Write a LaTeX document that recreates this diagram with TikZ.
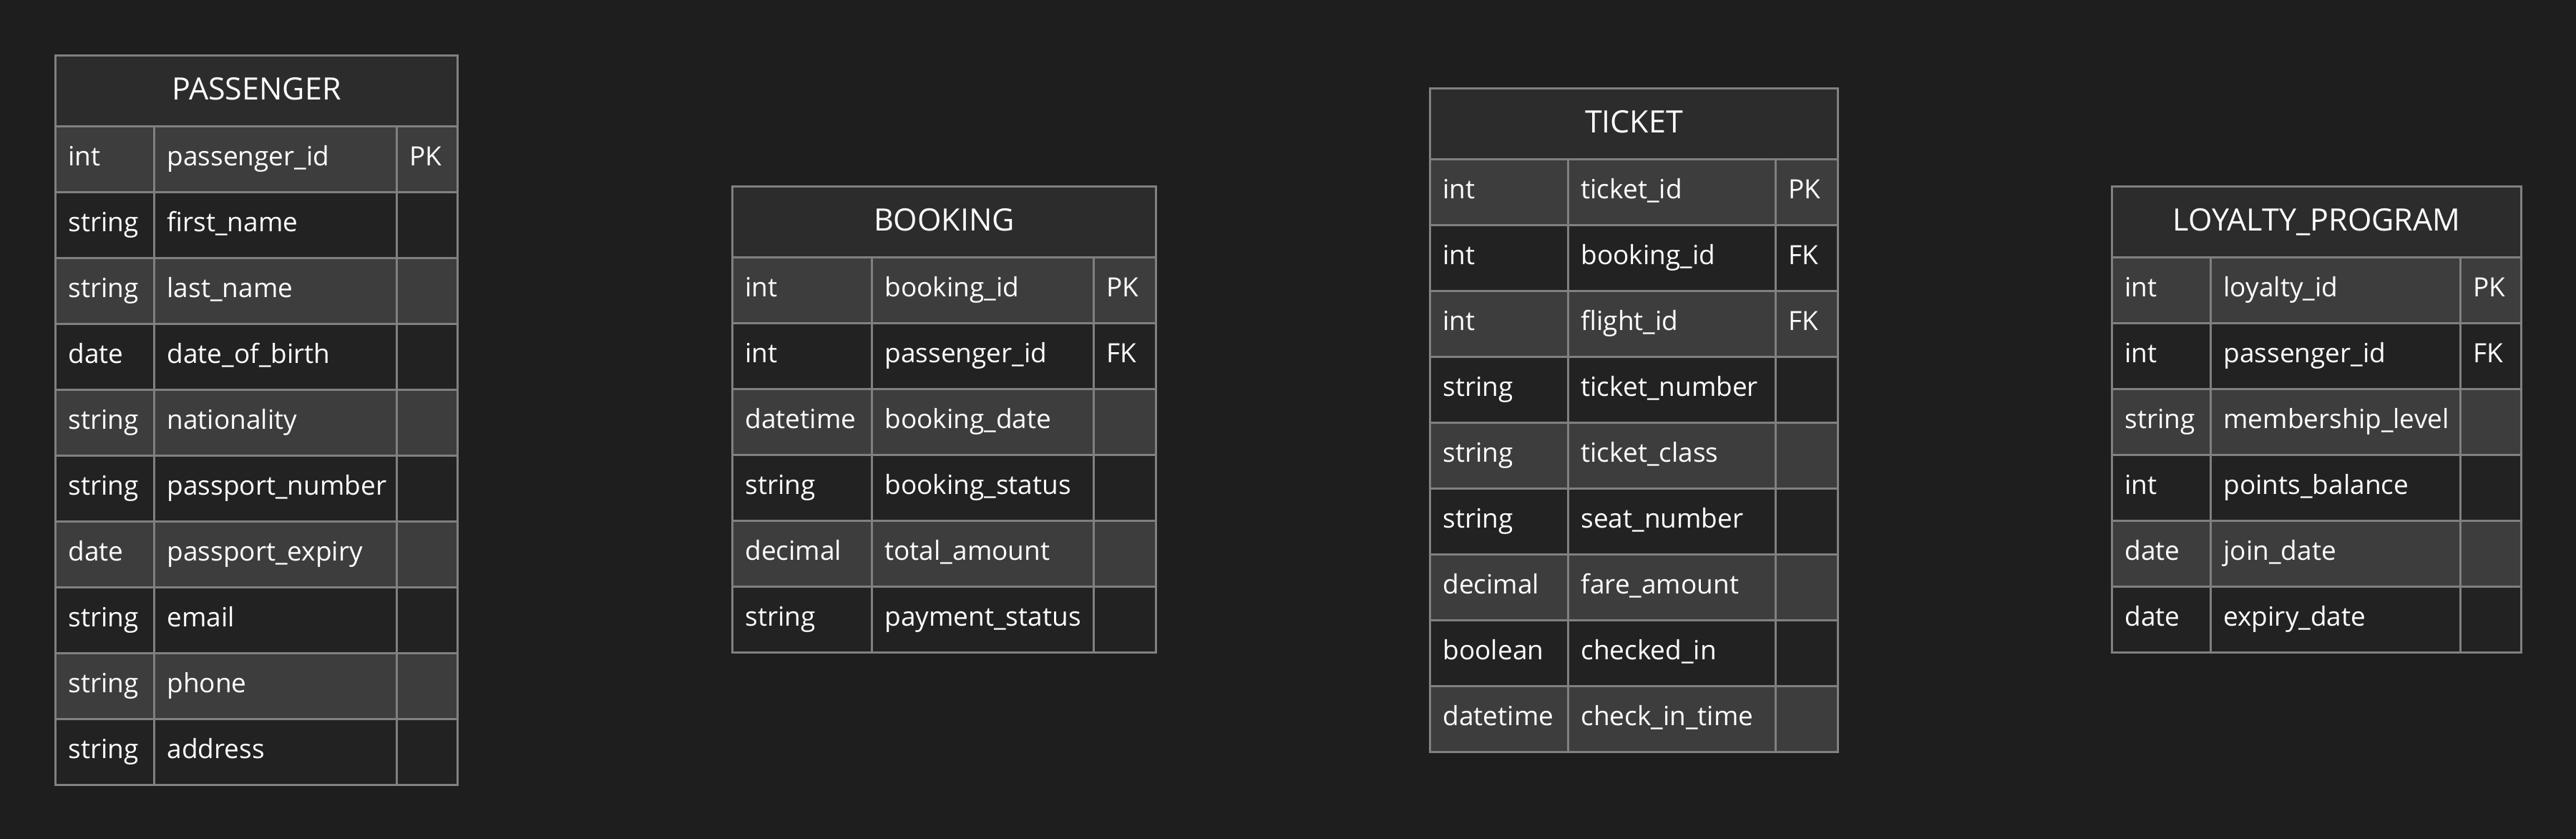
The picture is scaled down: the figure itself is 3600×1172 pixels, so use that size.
\documentclass[tikz,border=0pt]{standalone}
\usepackage{fontspec}
\setmainfont{Open Sans}
\usepackage{xcolor}
\definecolor{canvas}{HTML}{1E1E1E}
\definecolor{hdrfill}{HTML}{2C2C2C}
\definecolor{rowlight}{HTML}{3D3D3D}
\definecolor{rowdark}{HTML}{222222}
\definecolor{gridgray}{HTML}{808080}

\tikzset{
  hdr/.style={draw=gridgray, fill=hdrfill, line width=3pt, anchor=north west, minimum height=99pt,
    inner sep=0pt, text=white, text height=31pt, text depth=7pt, font=\fontsize{43}{50}\selectfont},
  cell/.style={draw=gridgray, line width=3pt, anchor=north west, minimum height=92pt,
    inner xsep=18pt, inner ysep=0pt, align=left, text=white, text height=25pt, text depth=8pt,
    font=\fontsize{37}{44}\selectfont}
}

\begin{document}
\begin{tikzpicture}[x=1pt, y=-1pt]
  \fill[canvas] (0,0) rectangle (3600,1172);
  \useasboundingbox (0,0) rectangle (3600,1172);

  % passenger
  \node[hdr, minimum width=562pt] (passenger) at (76,76) {PASSENGER};
  \foreach \t/\n/\k [count=\i] in {int/passenger\_id/PK, string/first\_name/{}, string/last\_name/{},
      date/date\_of\_birth/{}, string/nationality/{}, string/passport\_number/{},
      date/passport\_expiry/{}, string/email/{}, string/phone/{}, string/address/{}} {
    \ifodd\i \def\rf{rowlight}\else \def\rf{rowdark}\fi
    \node[cell, fill=\rf, text width=102pt] (passenger-t\i) at (76,{175+92*(\i-1)}) {\t};
    \node[cell, fill=\rf, text width=303pt] (passenger-n\i) at (214,{175+92*(\i-1)}) {\n};
    \node[cell, fill=\rf, text width=49pt] (passenger-k\i) at (553,{175+92*(\i-1)}) {\k};
  }

  % booking
  \node[hdr, minimum width=592pt] (booking) at (1022,259) {BOOKING};
  \foreach \t/\n/\k [count=\i] in {int/booking\_id/PK, int/passenger\_id/FK, datetime/booking\_date/{},
      string/booking\_status/{}, decimal/total\_amount/{}, string/payment\_status/{}} {
    \ifodd\i \def\rf{rowlight}\else \def\rf{rowdark}\fi
    \node[cell, fill=\rf, text width=159pt] (booking-t\i) at (1022,{358+92*(\i-1)}) {\t};
    \node[cell, fill=\rf, text width=274pt] (booking-n\i) at (1217,{358+92*(\i-1)}) {\n};
    \node[cell, fill=\rf, text width=51pt] (booking-k\i) at (1527,{358+92*(\i-1)}) {\k};
  }

  % ticket
  \node[hdr, minimum width=570pt] (ticket) at (1997,122) {TICKET};
  \foreach \t/\n/\k [count=\i] in {int/ticket\_id/PK, int/booking\_id/FK, int/flight\_id/FK,
      string/ticket\_number/{}, string/ticket\_class/{}, string/seat\_number/{},
      decimal/fare\_amount/{}, boolean/checked\_in/{}, datetime/check\_in\_time/{}} {
    \ifodd\i \def\rf{rowlight}\else \def\rf{rowdark}\fi
    \node[cell, fill=\rf, text width=157pt] (ticket-t\i) at (1997,{221+92*(\i-1)}) {\t};
    \node[cell, fill=\rf, text width=254pt] (ticket-n\i) at (2190,{221+92*(\i-1)}) {\n};
    \node[cell, fill=\rf, text width=51pt] (ticket-k\i) at (2480,{221+92*(\i-1)}) {\k};
  }

  % loyalty program
  \node[hdr, minimum width=572pt] (loyalty) at (2950,259) {LOYALTY\_PROGRAM};
  \foreach \t/\n/\k [count=\i] in {int/loyalty\_id/PK, int/passenger\_id/FK, string/membership\_level/{},
      int/points\_balance/{}, date/join\_date/{}, date/expiry\_date/{}} {
    \ifodd\i \def\rf{rowlight}\else \def\rf{rowdark}\fi
    \node[cell, fill=\rf, text width=102pt] (loyalty-t\i) at (2950,{358+92*(\i-1)}) {\t};
    \node[cell, fill=\rf, text width=313pt] (loyalty-n\i) at (3088,{358+92*(\i-1)}) {\n};
    \node[cell, fill=\rf, text width=49pt] (loyalty-k\i) at (3437,{358+92*(\i-1)}) {\k};
  }
\end{tikzpicture}
\end{document}
